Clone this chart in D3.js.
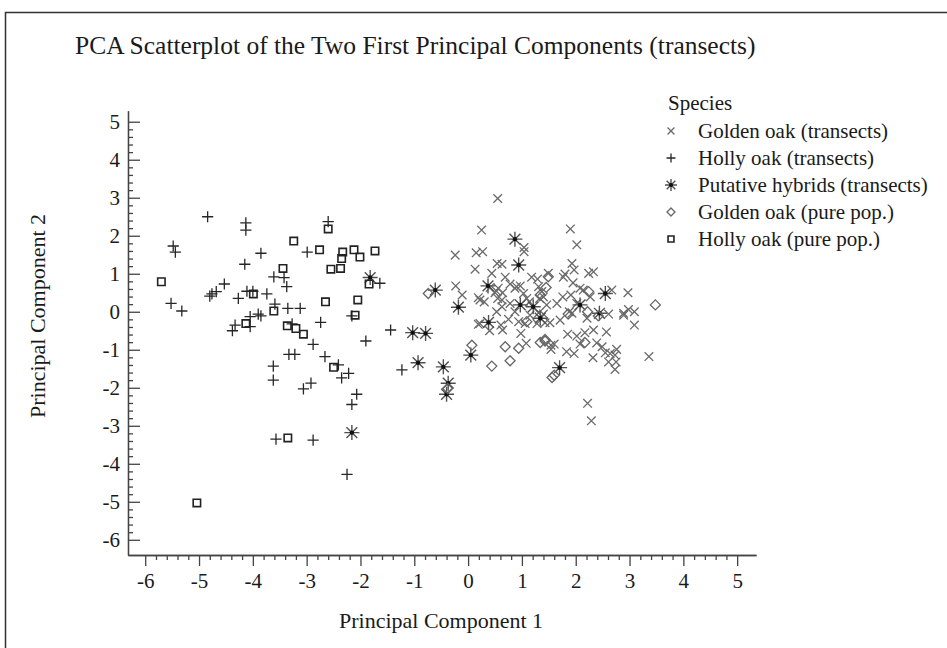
<!DOCTYPE html>
<html>
<head>
<meta charset="utf-8">
<script src="https://cdn.jsdelivr.net/npm/d3@7"></script>
<style>
    body { margin: 0; background: #fff; }
    svg { display: block; }
    text { font-family: "Liberation Serif", "Times New Roman", serif; fill: #1a1a1a; }
</style>
</head>
<body>
<svg id="chart" width="947" height="648"></svg>
<script>
// Golden oak (transects)
var goldenTransects = [
    [0.55, 2.98], [0.25, 2.15], [1.90, 2.18], [2.02, 1.76], [-0.24, 1.49], [0.15, 1.55],
    [0.27, 1.58], [1.04, 1.69], [1.04, 1.58], [0.13, 1.12], [0.44, 1.01],
    [0.54, 1.27], [0.63, 1.25], [-0.23, 0.68], [-0.11, 0.44], [0.19, 0.37], [0.30, 0.26],
    [0.52, 0.55], [0.53, 0.00], [0.19, -0.33], [0.40, -0.50], [0.69, 0.91], [0.78, 0.73],
    [0.56, 0.62], [0.50, 0.50], [0.64, 0.50], [0.87, 0.62], [0.97, 0.68], [1.03, 0.48],
    [1.18, 0.91], [1.29, 0.86], [1.49, 1.01], [1.31, 0.66], [1.37, 0.53], [1.80, 0.99],
    [1.77, 0.91], [1.93, 1.27], [1.97, 1.10], [2.24, 1.01], [2.33, 1.05], [1.95, 0.76],
    [2.08, 0.62], [2.14, 0.57], [2.27, 0.39], [2.67, 0.57], [2.97, 0.50], [1.76, 0.39],
    [1.91, 0.44], [1.65, 0.22], [1.46, 0.18], [1.33, 0.35], [1.40, 0.39], [0.22, 0.31],
    [0.55, 0.35], [0.63, 0.31], [0.78, 0.22], [1.09, 0.35], [1.14, 0.26], [0.63, 0.13],
    [0.87, 0.00], [1.15, -0.09], [1.31, -0.03], [1.40, -0.06], [1.88, 0.00], [1.93, -0.04],
    [2.02, 0.22], [2.21, -0.17], [2.61, -0.06], [2.89, -0.09], [2.98, 0.06], [3.09, 0.00],
    [3.09, -0.35], [0.22, -0.31], [0.61, -0.35], [0.64, -0.48], [0.75, -0.20], [0.94, -0.26],
    [1.06, -0.31], [1.28, -0.31], [1.43, -0.29], [1.52, -0.29], [1.71, -0.22], [0.98, -0.57],
    [1.85, -0.59], [2.02, -0.64], [2.17, -0.55], [2.33, -0.48], [2.57, -0.53], [1.08, -0.83],
    [1.60, -0.85], [1.54, -0.99], [2.08, -0.85], [1.83, -1.05], [1.97, -1.10], [2.39, -0.82],
    [2.49, -0.92], [2.55, -1.08], [2.64, -1.10], [2.76, -0.99], [2.73, -1.14], [2.61, -1.32],
    [2.75, -1.32], [2.73, -1.52], [2.32, -1.21], [3.36, -1.18], [2.22, -2.41], [2.29, -2.87],
    [0.90, 0.66], [0.41, 0.64], [2.89, -0.04], [1.54, -0.88]
];

// Holly oak (transects)
var hollyTransects = [
    [-4.84, 2.50], [-4.13, 2.34], [-4.13, 2.15], [-3.85, 1.54], [-2.99, 1.57], [-5.48, 1.73],
    [-5.44, 1.57], [-4.15, 1.25], [-3.61, 0.92], [-3.42, 0.90], [-3.37, 0.66], [-4.53, 0.73],
    [-4.68, 0.53], [-4.80, 0.41], [-4.76, 0.47], [-4.11, 0.54], [-4.00, 0.54], [-4.27, 0.35],
    [-3.74, 0.47], [-5.52, 0.22], [-5.32, 0.02], [-3.59, 0.20], [-3.35, 0.09], [-3.12, 0.09],
    [-4.05, -0.13], [-3.90, -0.06], [-3.85, -0.11], [-4.05, -0.39], [-4.33, -0.35], [-4.38, -0.50],
    [-3.27, -0.32], [-2.74, -0.28], [-2.88, -0.86], [-3.33, -1.12], [-3.22, -1.12], [-2.66, -1.18],
    [-3.62, -1.43], [-3.62, -1.80], [-3.06, -2.03], [-2.92, -1.88], [-3.57, -3.35], [-2.88, -3.38],
    [-2.60, 2.37], [-1.64, 0.75], [-2.16, -0.11], [-1.44, -0.48], [-1.90, -0.77], [-2.41, -1.40],
    [-2.35, -1.74], [-2.22, -1.62], [-2.07, -2.17], [-2.16, -2.44], [-2.25, -4.28], [-1.23, -1.53]
];

// Putative hybrids (transects)
var hybrids = [
    [-1.82, 0.90], [-1.03, -0.55], [-0.79, -0.57], [-0.61, 0.57], [-0.18, 0.12], [0.37, 0.68],
    [0.38, -0.28], [-2.16, -3.18], [-0.93, -1.34], [-0.46, -1.45], [-0.37, -1.88], [-0.40, -2.17],
    [0.05, -1.14], [0.94, 1.23], [0.87, 1.91], [0.97, 0.18], [1.21, 0.13], [2.55, 0.48],
    [2.08, 0.18], [2.44, -0.04], [1.34, -0.17], [1.70, -1.47]
];

// Golden oak (pure pop.)
var goldenPure = [
    [-0.74, 0.48], [-0.38, -2.02], [0.07, -0.88], [0.44, -1.43], [1.49, 0.92], [1.45, 0.64],
    [1.34, 0.44], [2.24, 0.53], [3.48, 0.18], [1.86, -0.06], [2.22, 0.00], [2.42, -0.11],
    [1.09, -0.26], [1.43, -0.73], [0.69, -0.92], [0.94, -0.96], [1.34, -0.81], [1.43, -0.77],
    [2.17, -0.81], [0.78, -1.29], [1.60, -1.67], [1.56, -1.73]
];

// Holly oak (pure pop.)
var hollyPure = [
    [-3.24, 1.86], [-2.76, 1.63], [-3.44, 1.14], [-2.55, 1.12], [-5.70, 0.79], [-3.99, 0.47],
    [-3.61, 0.02], [-4.13, -0.31], [-3.36, -0.37], [-3.20, -0.44], [-3.06, -0.59], [-3.35, -3.32],
    [-5.04, -5.03], [-2.60, 2.18], [-2.33, 1.57], [-2.12, 1.63], [-1.73, 1.60], [-2.35, 1.40],
    [-2.01, 1.44], [-2.37, 1.14], [-1.84, 0.73], [-2.65, 0.26], [-2.05, 0.31], [-2.10, -0.09],
    [-2.50, -1.46]
];

var xTicks = [-6, -5, -4, -3, -2, -1, 0, 1, 2, 3, 4, 5];
var yTicks = [-6, -5, -4, -3, -2, -1, 0, 1, 2, 3, 4, 5];

var legendLabels = [
    'Golden oak (transects)',
    'Holly oak (transects)',
    'Putative hybrids (transects)',
    'Golden oak (pure pop.)',
    'Holly oak (pure pop.)'
];

var svg = d3.select('#chart');

// Outer frame.
svg.append('rect')
    .attr('x', 5.5).attr('y', 12.5)
    .attr('width', 960).attr('height', 660)
    .attr('fill', 'none')
    .attr('stroke', '#333')
    .attr('stroke-width', 1.5);

var x = d3.scaleLinear().domain([-6.32, 5.35]).range([128, 756]);
var y = d3.scaleLinear().domain([-6.4, 5.29]).range([555, 110.7]);

// Minor ticks every 0.2 between the major ones.
function minors() {
    return d3.range(-30, 26)
        .map(function (i) { return Math.round(i * 2) / 10; })
        .filter(function (v) { return v % 1 !== 0; });
}

var axisColor = '#444';

svg.append('g')
    .attr('class', 'x-minor')
    .attr('transform', 'translate(0,555)')
    .call(d3.axisBottom(x).tickValues(minors()).tickSize(5).tickSizeOuter(0).tickFormat(''));

svg.append('g')
    .attr('class', 'x-axis')
    .attr('transform', 'translate(0,555)')
    .call(d3.axisBottom(x).tickValues(xTicks).tickSize(11).tickSizeOuter(0).tickPadding(7)
        .tickFormat(d3.format('d')));

svg.append('g')
    .attr('class', 'y-minor')
    .attr('transform', 'translate(128,0)')
    .call(d3.axisLeft(y).tickValues(minors()).tickSize(-5).tickSizeOuter(0).tickFormat(''));

svg.append('g')
    .attr('class', 'y-axis')
    .attr('transform', 'translate(128,0)')
    .call(d3.axisLeft(y).tickValues(yTicks).tickSize(-12).tickSizeOuter(0).tickPadding(8)
        .tickFormat(d3.format('d')));

svg.selectAll('.domain, .tick line')
    .attr('stroke', axisColor)
    .attr('stroke-width', 1.3);

// Plain hyphen for negatives, like the original labels.
svg.selectAll('.x-axis .tick text, .y-axis .tick text')
    .attr('fill', '#111')
    .style('font-family', '"Liberation Serif", serif')
    .style('font-size', '21px')
    .text(function (d) { return String(d); });

// Marker paths, centred on 0,0.
var markers = {
    cross: function (s) {
        return 'M' + (-s) + ',' + (-s) + 'L' + s + ',' + s + 'M' + (-s) + ',' + s + 'L' + s + ',' + (-s);
    },
    plus: function (s) {
        return 'M' + (-s) + ',0L' + s + ',0M0,' + (-s) + 'L0,' + s;
    },
    star: function (s) {
        var d = s * 0.72;
        return 'M' + (-s) + ',0L' + s + ',0M0,' + (-s) + 'L0,' + s +
            'M' + (-d) + ',' + (-d) + 'L' + d + ',' + d + 'M' + (-d) + ',' + d + 'L' + d + ',' + (-d);
    },
    diamond: function (s) {
        return 'M0,' + (-s) + 'L' + s + ',0L0,' + s + 'L' + (-s) + ',0Z';
    },
    square: function (s) {
        return 'M' + (-s) + ',' + (-s) + 'H' + s + 'V' + s + 'H' + (-s) + 'Z';
    }
};

var series = [
    { data: goldenTransects, shape: 'cross', size: 4.3, color: '#6a6a6a', width: 1.3 },
    { data: hollyTransects, shape: 'plus', size: 5.6, color: '#262626', width: 1.3 },
    { data: hybrids, shape: 'star', size: 7.5, color: '#505050', width: 1.4 },
    { data: goldenPure, shape: 'diamond', size: 5, color: '#666', width: 1.3 },
    { data: hollyPure, shape: 'square', size: 3.7, color: '#222', width: 1.6 }
];

var plot = svg.append('g').attr('class', 'points');

series.forEach(function (s) {
    plot.selectAll(null)
        .data(s.data)
        .enter()
        .append('path')
        .attr('transform', function (d) {
            return 'translate(' + x(d[0]) + ',' + y(d[1]) + ')';
        })
        .attr('d', markers[s.shape](s.size))
        .attr('fill', 'none')
        .attr('stroke', s.color)
        .attr('stroke-width', s.width);

    // Hybrids get a dark centre.
    if (s.shape === 'star') {
        plot.selectAll(null)
            .data(s.data)
            .enter()
            .append('circle')
            .attr('cx', function (d) { return x(d[0]); })
            .attr('cy', function (d) { return y(d[1]); })
            .attr('r', 2.2)
            .attr('fill', '#111');
    }
});

// Title and axis labels.
svg.append('text')
    .attr('x', 75).attr('y', 54)
    .style('font-size', '25.5px')
    .text('PCA Scatterplot of the Two First Principal Components (transects)');

svg.append('text')
    .attr('x', 441).attr('y', 628)
    .attr('text-anchor', 'middle')
    .style('font-size', '22px')
    .text('Principal Component 1');

svg.append('text')
    .attr('transform', 'translate(45,316) rotate(-90)')
    .attr('text-anchor', 'middle')
    .style('font-size', '22px')
    .text('Principal Component 2');

// Legend.
var legend = svg.append('g').attr('class', 'legend');

legend.append('text')
    .attr('x', 668).attr('y', 110)
    .style('font-size', '21px')
    .text('Species');

var rows = legend.selectAll('g.row')
    .data(series)
    .enter()
    .append('g')
    .attr('class', 'row')
    .attr('transform', function (d, i) {
        return 'translate(671,' + (131 + i * 27) + ')';
    });

rows.append('path')
    .attr('d', function (d) { return markers[d.shape](d.size * 0.8); })
    .attr('fill', 'none')
    .attr('stroke', function (d) { return d.color; })
    .attr('stroke-width', function (d) { return d.width; });

rows.filter(function (d) { return d.shape === 'star'; })
    .append('circle')
    .attr('r', 2)
    .attr('fill', '#111');

rows.append('text')
    .attr('x', 27).attr('y', 7)
    .style('font-size', '21px')
    .text(function (d, i) { return legendLabels[i]; });
</script>
</body>
</html>
